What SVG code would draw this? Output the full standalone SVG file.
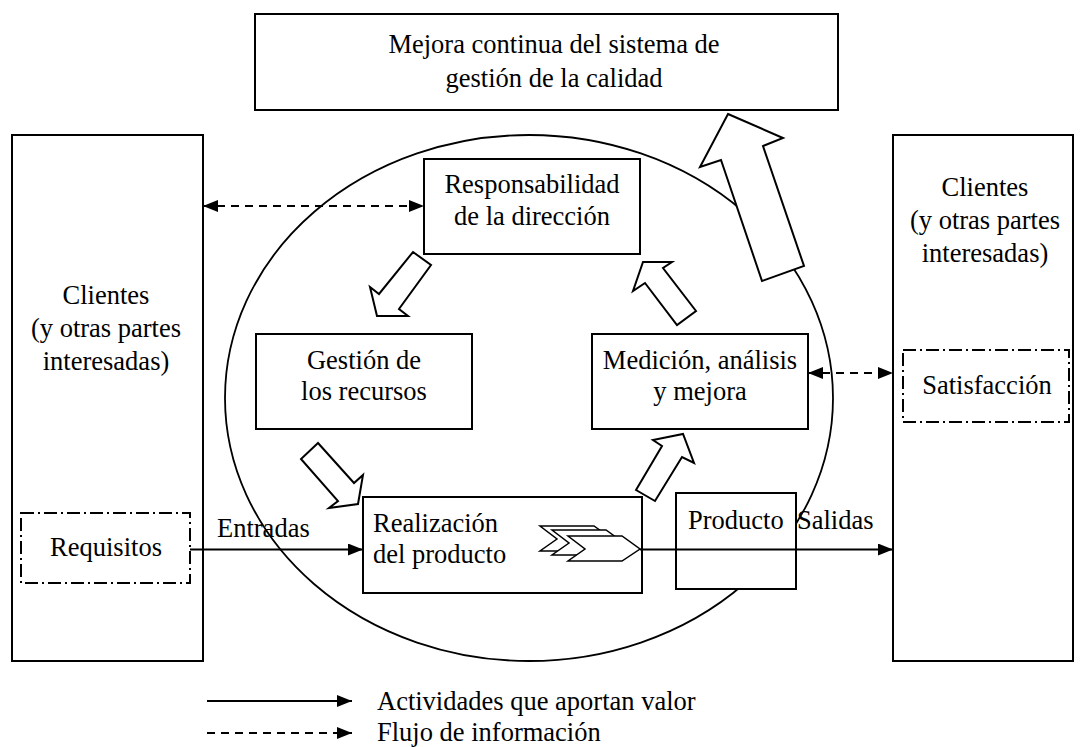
<svg xmlns="http://www.w3.org/2000/svg" width="1080" height="747" viewBox="0 0 1080 747">
<style>
  .box { fill: #fff; stroke: #000; stroke-width: 2; }
  .dd { fill: none; stroke: #000; stroke-width: 2; stroke-dasharray: 13 4 2 4; }
  .harrow { fill: #fff; stroke: #000; stroke-width: 2; stroke-linejoin: miter; }
  text { font-family: "Liberation Serif", Tinos, "DejaVu Serif", serif; font-size: 26.5px; fill: #000; }
  .c { text-anchor: middle; }
  .solid { stroke: #000; stroke-width: 2; fill: none; }
  .dash { stroke: #000; stroke-width: 2; fill: none; stroke-dasharray: 8 6; }
</style>
<defs>
  <marker id="ah" viewBox="0 0 15 12" refX="15" refY="6" markerWidth="15" markerHeight="12" markerUnits="userSpaceOnUse" orient="auto-start-reverse">
    <path d="M0,0 L15,6 L0,12 Z" fill="#000"/>
  </marker>
  <polygon id="chev" points="0,0 54,0 72,13 54,25 0,25 17,13" fill="#fff" stroke="#000" stroke-width="1.5"/>
</defs>
<rect width="1080" height="747" fill="#fff"/>

<g id="ellipse">
  <ellipse cx="529" cy="398" rx="304" ry="263" fill="none" stroke="#000" stroke-width="1.8"/>
</g>

<g id="mejora" font-family="Liberation Serif, serif">
  <rect class="box" x="255" y="14" width="583" height="96"/>
  <text class="c" x="554" y="53">Mejora continua del sistema de</text>
  <text class="c" x="554" y="87">gestión de la calidad</text>
</g>

<g id="clientes-izq">
  <rect class="box" x="12" y="135" width="191" height="526"/>
  <text class="c" x="106" y="304">Clientes</text>
  <text class="c" x="106" y="337">(y otras partes</text>
  <text class="c" x="106" y="370">interesadas)</text>
</g>

<g id="clientes-der">
  <rect class="box" x="893" y="135" width="180" height="526"/>
  <text class="c" x="985" y="196">Clientes</text>
  <text class="c" x="985" y="229">(y otras partes</text>
  <text class="c" x="985" y="262">interesadas)</text>
</g>

<g id="requisitos">
  <rect class="dd" x="21" y="513" width="169" height="70"/>
  <text class="c" x="106" y="556">Requisitos</text>
</g>

<g id="satisfaccion">
  <rect class="dd" x="903" y="350" width="166" height="72"/>
  <text class="c" x="987" y="394">Satisfacción</text>
</g>

<g id="responsabilidad">
  <rect class="box" x="424" y="159" width="216" height="95"/>
  <text class="c" x="532" y="193">Responsabilidad</text>
  <text class="c" x="532" y="225">de la dirección</text>
</g>

<g id="gestion">
  <rect class="box" x="256" y="334" width="216" height="95"/>
  <text class="c" x="364" y="369">Gestión de</text>
  <text class="c" x="364" y="400">los recursos</text>
</g>

<g id="medicion">
  <rect class="box" x="592" y="334" width="216" height="95"/>
  <text class="c" x="700" y="369">Medición, análisis</text>
  <text class="c" x="700" y="400">y mejora</text>
</g>

<g id="realizacion">
  <rect class="box" x="363" y="497" width="279" height="96"/>
  <text x="373" y="532">Realización</text>
  <text x="373" y="563">del producto</text>
  <use href="#chev" transform="translate(540,526)"/>
  <use href="#chev" transform="translate(552,530)"/>
  <use href="#chev" transform="translate(568,536)"/>
</g>

<g id="producto">
  <rect class="box" x="676" y="493" width="120" height="96"/>
  <text x="688" y="529">Producto</text>
</g>

<g id="flechas-huecas">
  <polygon class="harrow" points="728,114 783,138 763,146 804,266 762,281 721,160 700,167"/>
  <polygon class="harrow" points="413,252 431,265 399,309 408,316 377,316 370,287 379,294"/>
  <polygon class="harrow" points="318,443 301,459 338,501 329,508 358,504 363,475 354,483"/>
  <polygon class="harrow" points="636,490 662,446 653,440 683,434 694,463 682,457 655,501"/>
  <polygon class="harrow" points="643,262 672,262 663,268 696,311 677,325 645,283 633,291"/>
</g>

<g id="connectors">
  <line class="solid" x1="190" y1="549.5" x2="363" y2="549.5" marker-end="url(#ah)"/>
  <line class="solid" x1="640" y1="549.5" x2="893" y2="549.5" marker-end="url(#ah)"/>
  <line class="dash" x1="203" y1="206" x2="424" y2="206" marker-start="url(#ah)" marker-end="url(#ah)"/>
  <line class="dash" x1="808" y1="373" x2="893" y2="373" marker-start="url(#ah)" marker-end="url(#ah)"/>
  <text x="217" y="537">Entradas</text>
  <text x="797" y="529">Salidas</text>
</g>

<g id="leyenda">
  <line class="solid" x1="207" y1="701" x2="352" y2="701" marker-end="url(#ah)"/>
  <line class="dash" x1="207" y1="733" x2="352" y2="733" marker-end="url(#ah)"/>
  <text x="377" y="710">Actividades que aportan valor</text>
  <text x="377" y="741">Flujo de información</text>
</g>
</svg>
